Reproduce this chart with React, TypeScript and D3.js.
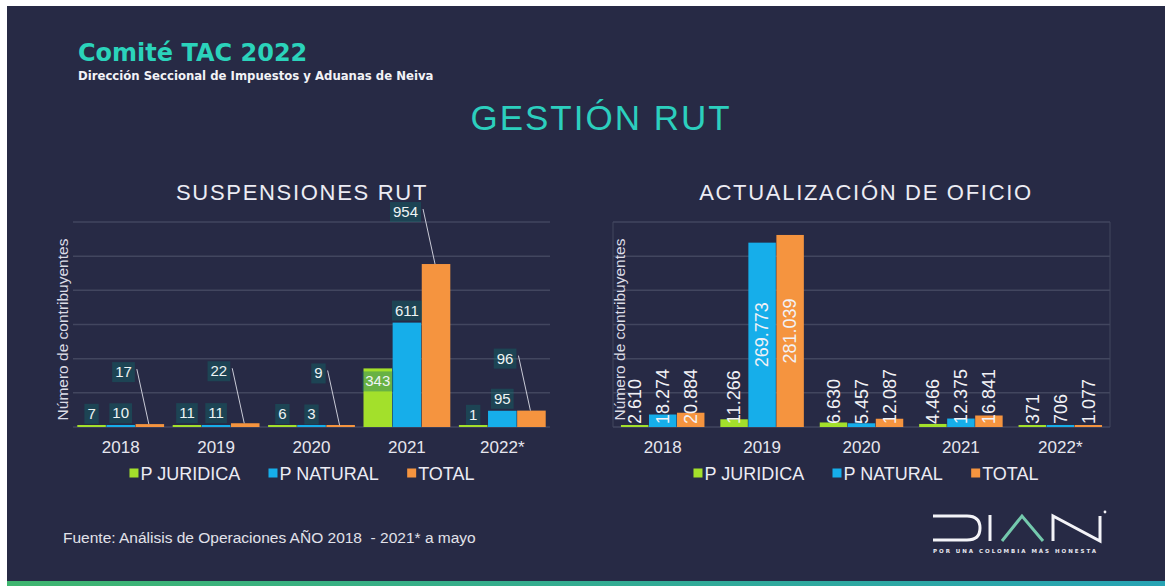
import React from 'react';
import * as d3 from 'd3';

// categories and series
const years = ['2018', '2019', '2020', '2021', '2022*'];
const seriesNames = ['P JURIDICA', 'P NATURAL', 'TOTAL'];
const seriesColors = ['#a3e02b', '#16aeea', '#f5943f'];

// suspensiones RUT
const suspJuridica = [7, 11, 6, 343, 1];
const suspNatural = [10, 11, 3, 611, 95];
const suspTotal = [17, 22, 9, 954, 96];
const suspTicks = [0, 200, 400, 600, 800, 1000, 1200];

// actualización de oficio
const actJuridica = [2610, 11266, 6630, 4466, 371];
const actNatural = [18274, 269773, 5457, 12375, 706];
const actTotal = [20884, 281039, 12087, 16841, 1077];
const actTicks = [0, 50000, 100000, 150000, 200000, 250000, 300000];

const W = 1166;
const H = 586;
const BG = '#272a45';
const FONT = "'Liberation Sans', Arial, sans-serif";

const fmt = d3
  .formatLocale({ decimal: ',', thousands: '.', grouping: [3], currency: ['$', ''] })
  .format(',d');

let canvas: any = null;
function measure(text: string, font: string) {
  if (!canvas) canvas = document.createElement('canvas');
  const ctx = canvas.getContext('2d');
  ctx.font = font;
  return ctx.measureText(text).width;
}

type ChartProps = {
  title: string;
  cx: number; // centre of chart area (title, legend)
  x0: number;
  x1: number;
  series: number[][];
  ticks: number[];
  mode: 'box' | 'rotated';
  groupPad: number;
  axisX: number;
  frame?: boolean;
};

function Chart({ title, cx, x0, x1, series, ticks, mode, groupPad, axisX, frame }: ChartProps) {
  const yTop = 222;
  const yBase = 427;
  const x = d3.scaleBand().domain(years).range([x0, x1]).padding(0);
  const xs = d3
    .scaleBand()
    .domain(seriesNames)
    .range([x.step() * groupPad, x.step() * (1 - groupPad)])
    .paddingInner(0.02);
  const y = d3.scaleLinear().domain([0, ticks[ticks.length - 1]]).range([yBase, yTop]);

  // legend layout
  const legendFont = `18px ${FONT}`;
  const itemW = seriesNames.map((s) => 11 + measure(s, legendFont));
  const gap = 28;
  const totalW = d3.sum(itemW) + gap * (itemW.length - 1);
  let lx = cx - totalW / 2;
  const legendX = itemW.map((w) => {
    const v = lx;
    lx += w + gap;
    return v;
  });

  const labelFont = `15px ${FONT}`;

  return (
    <g>
      <text
        x={cx}
        y={200}
        textAnchor="middle"
        fontFamily={FONT}
        fontSize={22}
        letterSpacing={1.7}
        fill="#ececf4"
      >
        {title}
      </text>

      {ticks.map((t) => (
        <line key={t} x1={x0} x2={x1} y1={y(t)} y2={y(t)} stroke="#42465f" strokeWidth={1.5} />
      ))}
      {frame && (
        <g stroke="#42465f" strokeWidth={1}>
          <line x1={x0} x2={x0} y1={yTop} y2={yBase} />
          <line x1={x1} x2={x1} y1={yTop} y2={yBase} />
        </g>
      )}

      <text
        transform={`translate(${axisX},${(yTop + yBase) / 2 + 5}) rotate(-90)`}
        textAnchor="middle"
        dy="0.35em"
        fontFamily={FONT}
        fontSize={15.5}
        fill="#dcdce6"
      >
        Número de contribuyentes
      </text>

      {years.map((yr, i) => (
        <g key={yr} transform={`translate(${x(yr)},0)`}>
          {series.map((vals, s) => {
            const h = Math.max(yBase - y(vals[i]), 2);
            return (
              <rect
                key={s}
                x={xs(seriesNames[s])}
                y={yBase - h}
                width={xs.bandwidth()}
                height={h}
                fill={seriesColors[s]}
              />
            );
          })}
        </g>
      ))}

      {mode === 'box' &&
        years.map((yr, i) =>
          series.map((vals, s) => {
            const bx = (x(yr) as number) + (xs(seriesNames[s]) as number) + xs.bandwidth() / 2;
            const top = y(vals[i]);
            const txt = fmt(vals[i]);
            const tw = measure(txt, labelFont) + 6;
            if (s === 2) {
              const cy = top - 52;
              const right = bx - 15;
              return (
                <g key={`${i}-${s}`}>
                  <line x1={bx - 13} y1={cy - 3} x2={bx - 1} y2={top} stroke="#c9cad6" strokeWidth={1} />
                  <rect x={right - tw} y={cy - 10} width={tw} height={20} fill="#0f6b6b" fillOpacity={0.4} />
                  <text x={right - 3} y={cy + 5} textAnchor="end" fontFamily={FONT} fontSize={15} fill="#eef4f4">
                    {txt}
                  </text>
                </g>
              );
            }
            const inside = s === 0 && yBase - top > 26;
            const cy = inside ? top + 13 : top - 12;
            return (
              <g key={`${i}-${s}`}>
                <rect x={bx - tw / 2} y={cy - 10} width={tw} height={20} fill="#0f6b6b" fillOpacity={0.4} />
                <text x={bx} y={cy + 5} textAnchor="middle" fontFamily={FONT} fontSize={15} fill="#eef4f4">
                  {txt}
                </text>
              </g>
            );
          })
        )}

      {mode === 'rotated' &&
        years.map((yr, i) =>
          series.map((vals, s) => {
            const bx = (x(yr) as number) + (xs(seriesNames[s]) as number) + xs.bandwidth() / 2;
            const top = y(vals[i]);
            const txt = fmt(vals[i]);
            const tl = measure(txt, `18px ${FONT}`);
            const centred = yBase - top > tl + 10;
            const ly = centred ? (top + yBase) / 2 : yBase - 3;
            return (
              <text
                key={`${i}-${s}`}
                transform={`translate(${bx},${ly}) rotate(-90)`}
                textAnchor={centred ? 'middle' : 'start'}
                dy="0.35em"
                fontFamily={FONT}
                fontSize={18}
                fill="#f2f2f6"
              >
                {txt}
              </text>
            );
          })
        )}

      {years.map((yr) => (
        <text
          key={yr}
          x={(x(yr) as number) + x.bandwidth() / 2}
          y={453}
          textAnchor="middle"
          fontFamily={FONT}
          fontSize={17}
          fill="#e6e6ee"
        >
          {yr}
        </text>
      ))}

      {seriesNames.map((s, k) => (
        <g key={s} transform={`translate(${legendX[k]},473)`}>
          <rect x={0} y={-4.5} width={9} height={9} fill={seriesColors[k]} />
          <text x={11} y={6.5} fontFamily={FONT} fontSize={18} fill="#ececf4">
            {s}
          </text>
        </g>
      ))}
    </g>
  );
}

function DianLogo() {
  return (
    <g fill="none" strokeWidth={3} strokeLinecap="butt">
      <path d="M933,516 H967 Q980,516 980,528 Q980,540 967,540 H933" stroke="#f4f4f8" />
      <path d="M990,515 V541" stroke="#f4f4f8" />
      <path d="M1002,541 L1022,516 L1043,541" stroke="#74c9ad" />
      <path d="M1053,541 V516 L1100,541 V516" stroke="#f4f4f8" strokeLinejoin="miter" />
      <circle cx={1105} cy={512} r={1.4} fill="#f4f4f8" stroke="none" />
      <text
        x={933}
        y={553}
        fontFamily="'DejaVu Sans', sans-serif"
        fontWeight="bold"
        fontSize={5.5}
        textLength={163}
        lengthAdjust="spacing"
        fill="#e8e8f0"
        stroke="none"
      >
        POR UNA COLOMBIA MÁS HONESTA
      </text>
    </g>
  );
}

export default function App() {
  return (
    <svg
      width={W}
      height={H}
      style={{ position: 'absolute', left: 0, top: 0, display: 'block' }}
    >
      <defs>
        <linearGradient id="foot" x1="0" x2="1" y1="0" y2="0">
          <stop offset="0" stopColor="#3fb56f" />
          <stop offset="1" stopColor="#27a3b4" />
        </linearGradient>
      </defs>
      <rect x={0} y={0} width={W} height={H} fill="#ffffff" />
      <rect x={7} y={6} width={1158} height={580} fill={BG} />
      <rect x={7} y={581} width={1158} height={5} fill="url(#foot)" />

      <text x={78} y={61} fontFamily="'DejaVu Sans', Verdana, sans-serif" fontWeight="bold" fontSize={24} fill="#2bd3bb">
        Comité TAC 2022
      </text>
      <text x={78} y={80} fontFamily="'DejaVu Sans', Verdana, sans-serif" fontWeight="bold" fontSize={11.7} fill="#f2f2f6">
        Dirección Seccional de Impuestos y Aduanas de Neiva
      </text>

      <text
        x={601}
        y={130}
        textAnchor="middle"
        fontFamily={FONT}
        fontSize={35}
        letterSpacing={2}
        fill="#2ccfbe"
      >
        GESTIÓN RUT
      </text>

      <Chart
        title="SUSPENSIONES RUT"
        cx={302}
        x0={73}
        x1={550}
        series={[suspJuridica, suspNatural, suspTotal]}
        ticks={suspTicks}
        mode="box"
        groupPad={0.045}
        axisX={63}
      />
      <Chart
        title="ACTUALIZACIÓN DE OFICIO"
        cx={866}
        x0={613}
        x1={1110}
        series={[actJuridica, actNatural, actTotal]}
        ticks={actTicks}
        mode="rotated"
        groupPad={0.08}
        axisX={620}
        frame
      />

      <text x={63} y={543} fontFamily={FONT} fontSize={15.5} fill="#e2e2ea" style={{ whiteSpace: 'pre' }}>
        Fuente: Análisis de Operaciones AÑO 2018  - 2021* a mayo
      </text>

      <DianLogo />
    </svg>
  );
}
